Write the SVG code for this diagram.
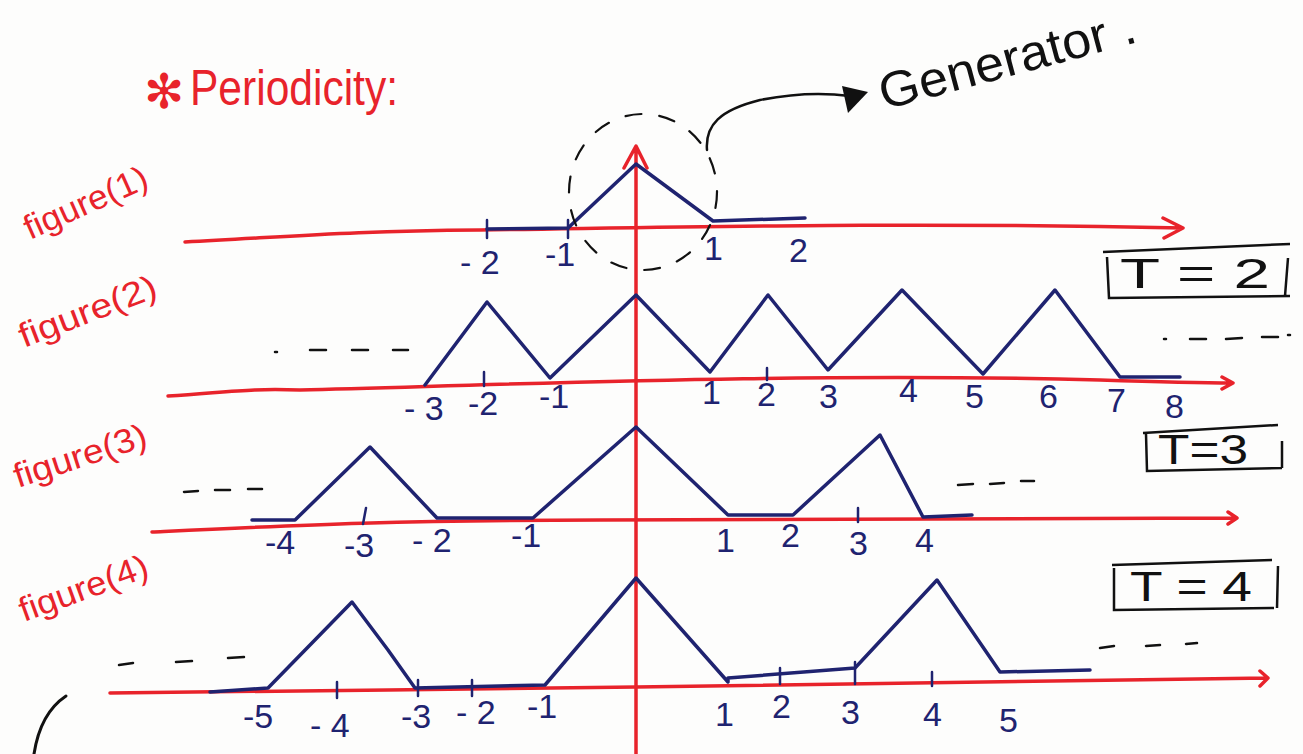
<svg xmlns="http://www.w3.org/2000/svg" width="1303" height="754" viewBox="0 0 1303 754">
<style>
.red{fill:none;stroke:#e8232b;stroke-width:3.5;stroke-linecap:round;stroke-linejoin:round}
.blue{fill:none;stroke:#1f2370;stroke-width:3.5;stroke-linecap:round;stroke-linejoin:round}
.tick{fill:none;stroke:#1f2370;stroke-width:2.5;stroke-linecap:round}
.blk{fill:none;stroke:#111;stroke-width:2.5;stroke-linecap:round}
.dash{fill:none;stroke:#111;stroke-width:2.2;stroke-linecap:round;stroke-dasharray:16 18}
.num{font-family:"Liberation Sans",Arial,sans-serif;font-size:34px;fill:#1f2370}
.fig{font-family:"Liberation Sans",Arial,sans-serif;font-size:34px;fill:#e8232b}
.box{fill:none;stroke:#111;stroke-width:2.5}
.bt{font-family:"Liberation Sans",Arial,sans-serif;font-size:42px;fill:#111}
</style>
<rect width="1303" height="754" fill="#fdfdfc"/>

<!-- title -->
<text x="144" y="108" font-family="DejaVu Sans,sans-serif" font-size="48" fill="#e8232b">✻</text>
<text x="190" y="105" font-family="Liberation Sans,Arial,sans-serif" font-size="50" fill="#e8232b" textLength="208" lengthAdjust="spacingAndGlyphs">Periodicity:</text>

<!-- labels -->
<text class="fig" transform="translate(30,240) rotate(-24)" textLength="132" lengthAdjust="spacingAndGlyphs">figure(1)</text>
<text class="fig" transform="translate(24,348) rotate(-21)" textLength="145" lengthAdjust="spacingAndGlyphs">figure(2)</text>
<text class="fig" transform="translate(18,488) rotate(-18)" textLength="138" lengthAdjust="spacingAndGlyphs">figure(3)</text>
<text class="fig" transform="translate(24,622) rotate(-20)" textLength="135" lengthAdjust="spacingAndGlyphs">figure(4)</text>

<!-- vertical axis -->
<path class="red" d="M636,754 L636,148 M624,168 L636,146 L647,168"/>

<!-- figure 1 -->
<g id="figure1">
<path class="red" d="M185,242 C300,236 350,231 480,230 C700,227 900,222 1183,228 M1163,218 L1183,228 L1164,238"/>
<path class="blue" d="M487,229 L568,228 L636,164 L713,221 L805,218"/>
<path class="tick" d="M487,220 L487,238 M568,220 L568,238"/>
<text class="num" x="460" y="274">- 2</text>
<text class="num" x="545" y="266">-1</text>
<text class="num" x="704" y="260">1</text>
<text class="num" x="789" y="262">2</text>
<ellipse cx="643" cy="192" rx="74" ry="78" class="dash"/>
</g>

<!-- generator -->
<g id="generator">
<path class="blk" d="M707,150 C705,125 720,110 760,100 C790,94 820,92 850,96"/>
<path d="M842,86 L868,92 L848,113 Z" fill="#111"/>
<text x="884" y="110" transform="rotate(-15 884 110)" font-family="Liberation Sans,Arial,sans-serif" font-size="50" fill="#111" textLength="264" lengthAdjust="spacingAndGlyphs">Generator .</text>
</g>

<!-- figure 2 -->
<g id="figure2">
<path class="red" d="M168,396 C230,392 250,388 300,390 C500,385 800,372 1100,380 C1160,382 1200,383 1233,383 M1222,377 L1233,383 L1222,389"/>
<path class="blue" d="M425,385 L487,302 L550,378 L636,295 L710,372 L768,295 L828,370 L902,290 L983,374 L1055,290 L1120,377 L1180,377"/>
<path class="tick" d="M484,372 L484,386 M767,368 L767,380"/>
<text class="num" x="404" y="420">- 3</text>
<text class="num" x="468" y="415">-2</text>
<text class="num" x="539" y="408">-1</text>
<text class="num" x="702" y="404">1</text>
<text class="num" x="757" y="406">2</text>
<text class="num" x="819" y="408">3</text>
<text class="num" x="899" y="402">4</text>
<text class="num" x="965" y="408">5</text>
<text class="num" x="1039" y="408">6</text>
<text class="num" x="1107" y="412">7</text>
<text class="num" x="1165" y="418">8</text>
<path class="blk" d="M275,352 L277,352 M310,350 L326,350 M352,350 L368,350 M393,350 L408,350"/>
<path class="blk" d="M1164,339 L1166,339 M1190,339 L1206,339 M1226,339 L1242,338 M1262,337 L1278,337 M1288,335 L1290,335"/>
</g>

<!-- figure 3 -->
<g id="figure3">
<path class="red" d="M152,532 C300,525 400,520 600,520 C800,518 1000,520 1236,518 M1228,512 L1237,518 L1228,524"/>
<path class="blue" d="M252,520 L295,520 L370,447 L437,518 L533,518 L636,427 L728,515 L793,515 L880,435 L923,517 L972,515"/>
<path class="tick" d="M366,508 L363,524 M858,508 L858,522"/>
<text class="num" x="265" y="554">-4</text>
<text class="num" x="344" y="557">-3</text>
<text class="num" x="412" y="552">- 2</text>
<text class="num" x="511" y="547">-1</text>
<text class="num" x="716" y="552">1</text>
<text class="num" x="781" y="547">2</text>
<text class="num" x="849" y="555">3</text>
<text class="num" x="915" y="552">4</text>
<path class="blk" d="M184,492 L198,491 M215,490 L230,490 M248,489 L262,489"/>
<path class="blk" d="M958,485 L973,484 M990,484 L1004,483 M1021,481 L1034,481"/>
</g>

<!-- figure 4 -->
<g id="figure4">
<path class="red" d="M110,693 C300,690 450,690 636,687 C800,685 1000,680 1268,678 M1260,671 L1268,678 L1260,686"/>
<path class="blue" d="M210,692 L268,688 L352,602 L388,650 L415,688 L545,685 L636,578 L728,682 L728,678 L855,668 L937,580 L1000,672 L1090,670"/>
<path class="tick" d="M337,682 L337,698 M418,680 L418,696 M472,680 L472,696 M780,668 L780,684 M855,662 L855,684 M932,672 L932,686"/>
<text class="num" x="243" y="728">-5</text>
<text class="num" x="310" y="737">- 4</text>
<text class="num" x="401" y="728">-3</text>
<text class="num" x="456" y="724">- 2</text>
<text class="num" x="527" y="718">-1</text>
<text class="num" x="715" y="726">1</text>
<text class="num" x="772" y="718">2</text>
<text class="num" x="841" y="724">3</text>
<text class="num" x="923" y="726">4</text>
<text class="num" x="999" y="732">5</text>
<path class="blk" d="M119,665 L133,663 M176,662 L192,661 M228,658 L244,657"/>
<path class="blk" d="M1100,648 L1114,646 M1146,646 L1160,645 M1186,644 L1197,643"/>
</g>

<!-- boxes -->
<g id="boxT2">
<path class="box" d="M1103,252 L1290,244 M1107,257 L1109,298 L1290,296 M1288,258 L1285,296"/>
<text class="bt" x="1120" y="288" textLength="150" lengthAdjust="spacingAndGlyphs">T = 2</text>
</g>
<g id="boxT3">
<path class="box" d="M1143,433 L1278,425 M1146,434 L1147,471 L1282,468 M1282,441 L1282,468"/>
<text class="bt" x="1158" y="464" textLength="90" lengthAdjust="spacingAndGlyphs">T=3</text>
</g>
<g id="boxT4">
<path class="box" d="M1112,565 L1272,560 M1114,568 L1114,610 L1274,608 M1278,566 L1277,608"/>
<text class="bt" x="1130" y="601" textLength="122" lengthAdjust="spacingAndGlyphs">T = 4</text>
</g>

<!-- bottom-left stroke -->
<path d="M66,696 C48,708 38,728 34,754" fill="none" stroke="#111" stroke-width="3" stroke-linecap="round"/>
</svg>
